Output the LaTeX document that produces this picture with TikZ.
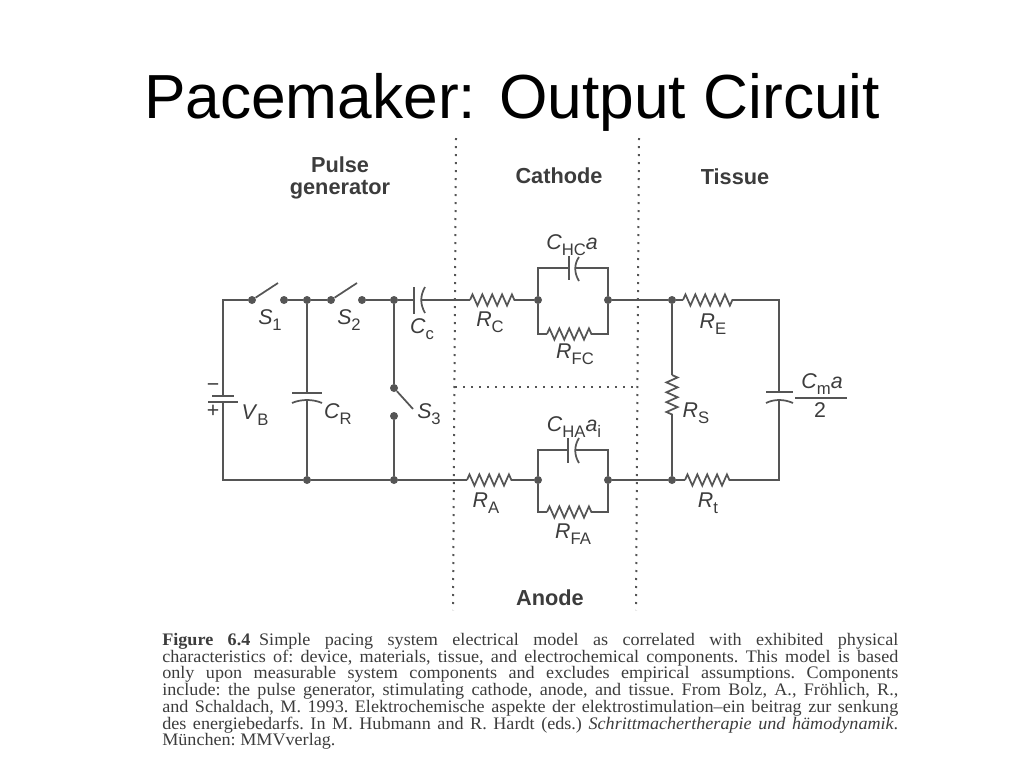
\documentclass[tikz,border=0pt]{standalone}
\usepackage{fontspec}
\setmainfont{Liberation Sans}
\newfontfamily\capfont[FakeStretch=1.03]{Liberation Serif}
\usetikzlibrary{decorations.pathmorphing}
\definecolor{wire}{HTML}{555555}
\definecolor{ink}{HTML}{3C3C3C}
\newcommand{\sublbl}[2]{\textit{#1}\raisebox{-.3em}{\fontsize{12.5}{14}\selectfont #2}}
\begin{document}
\begin{tikzpicture}[x=.75pt, y=-.75pt,
    wire/.style = {draw=wire, line width=1.3pt},
    res/.style = {wire, decorate, decoration={zigzag, segment length=7.4pt, amplitude=4.2pt}},
    dot/.style = {circle, fill=wire, inner sep=0pt, minimum size=6pt},
    plate/.style = {fill=wire, inner sep=0pt, minimum height=1.3pt, minimum width=#1},
    lbl/.style = {text=ink, font=\fontsize{16}{18}\selectfont, inner sep=0pt},
    head/.style = {text=ink, font=\fontsize{16.3}{16}\selectfont\bfseries, inner sep=0pt, align=center},
    sep/.style = {draw=wire, line width=1.5pt, dash pattern=on 1.5pt off 4.5pt}]
    \useasboundingbox (0,0) rectangle (1024,768);
    \node[font=\fontsize{46.7}{50}\selectfont, inner sep=0pt] (title) at (512,102) {Pacemaker: Output Circuit};

    % region borders
    \coordinate (sepat) at (456,138);
    \coordinate (sepab) at (453,610);
    \coordinate (sepbt) at (639,138);
    \coordinate (sepbb) at (636,610);
    \coordinate (sepl) at (455,387);
    \coordinate (sepr) at (638,387);
    \draw[sep] (sepat) -- (sepab);
    \draw[sep] (sepbt) -- (sepbb);
    \draw[sep] (sepl) -- (sepr);
    \node[head] (pulse) at (340,178) {Pulse\\generator};
    \node[head] (cathode) at (559,176) {Cathode};
    \node[head] (tissue) at (735,177) {Tissue};
    \node[head] (anode) at (550,598) {Anode};

    % junctions
    \coordinate (lt) at (223,300);
    \coordinate (lb) at (223,480);
    \node[dot] (s1a) at (252,300) {};
    \node[dot] (s1b) at (284,300) {};
    \node[dot] (j1) at (307,300) {};
    \node[dot] (s2a) at (331,300) {};
    \node[dot] (s2b) at (362,300) {};
    \node[dot] (j2) at (394,300) {};
    \node[dot] (j3) at (307,480) {};
    \node[dot] (j4) at (394,480) {};
    \node[dot] (s3a) at (394,388) {};
    \node[dot] (s3b) at (394,416) {};
    \node[dot] (c1) at (538,300) {};
    \node[dot] (c2) at (608,300) {};
    \node[dot] (j5) at (672,300) {};
    \node[dot] (a1) at (538,480) {};
    \node[dot] (a2) at (608,480) {};
    \node[dot] (j6) at (672,480) {};
    \coordinate (s1f) at (278,283);
    \coordinate (s2f) at (357,283);
    \coordinate (s3f) at (413,409);

    % battery and capacitors
    \node[plate=22pt*.75] (vb1) at (223,396) {};
    \node[plate=30pt*.75] (vb2) at (223,402) {};
    \node[plate=30pt*.75] (cr1) at (307,393) {};
    \coordinate (cr2) at (307,400);
    \draw[wire] (292,403) .. controls (301,399) and (313,399) .. (322,403);
    \node[plate=27pt*.75, rotate=90] (cc1) at (414,300) {};
    \coordinate (cc2) at (421,300);
    \draw[wire] (425,287) .. controls (420,296) and (420,304) .. (425,313);
    \node[plate=24pt*.75, rotate=90] (chc1) at (569,268) {};
    \coordinate (chc2) at (575,268);
    \draw[wire] (579,257) .. controls (574,264) and (574,273) .. (579,281);
    \node[plate=25pt*.75, rotate=90] (cha1) at (568,450) {};
    \coordinate (cha2) at (575,450);
    \draw[wire] (579,438) .. controls (574,446) and (574,455) .. (579,463);
    \node[plate=27pt*.75] (cm1) at (779,392) {};
    \coordinate (cm2) at (779,399);
    \draw[wire] (766,403) .. controls (774,399) and (784,399) .. (793,403);

    % resistor ends
    \coordinate (rcl) at (470,300);
    \coordinate (rcr) at (519,300);
    \coordinate (rfcl) at (547,334);
    \coordinate (rfcr) at (596,334);
    \coordinate (rel) at (683,300);
    \coordinate (rer) at (733,300);
    \coordinate (rst) at (672,375);
    \coordinate (rsb) at (672,417);
    \coordinate (ral) at (467,480);
    \coordinate (rar) at (516,480);
    \coordinate (rfal) at (547,512);
    \coordinate (rfar) at (595,512);
    \coordinate (rtl) at (685,480);
    \coordinate (rtr) at (733,480);
    \draw[res] (rcl) -- (rcr);
    \draw[res] (rfcl) -- (rfcr);
    \draw[res] (rel) -- (rer);
    \draw[res] (rst) -- (rsb);
    \draw[res] (ral) -- (rar);
    \draw[res] (rfal) -- (rfar);
    \draw[res] (rtl) -- (rtr);

    % wires
    \draw[wire] (vb1) -- (lt) -- (s1a);
    \draw[wire] (vb2) -- (lb) -- (j3);
    \draw[wire] (s1a) -- (s1f);
    \draw[wire] (s1b) -- (j1);
    \draw[wire] (j1) -- (s2a);
    \draw[wire] (s2a) -- (s2f);
    \draw[wire] (s2b) -- (j2);
    \draw[wire] (j2) -- (cc1);
    \draw[wire] (cc2) -- (rcl);
    \draw[wire] (rcr) -- (c1);
    \draw[wire] (j1) -- (cr1);
    \draw[wire] (cr2) -- (j3);
    \draw[wire] (j3) -- (j4);
    \draw[wire] (j2) -- (s3a);
    \draw[wire] (s3a) -- (s3f);
    \draw[wire] (s3b) -- (j4);
    \draw[wire] (j4) -- (ral);
    \draw[wire] (rar) -- (a1);
    \draw[wire] (c1) |- (chc1);
    \draw[wire] (chc2) -| (c2);
    \draw[wire] (c1) |- (rfcl);
    \draw[wire] (rfcr) -| (c2);
    \draw[wire] (a1) |- (cha1);
    \draw[wire] (cha2) -| (a2);
    \draw[wire] (a1) |- (rfal);
    \draw[wire] (rfar) -| (a2);
    \draw[wire] (c2) -- (j5);
    \draw[wire] (j5) -- (rel);
    \draw[wire] (a2) -- (j6);
    \draw[wire] (j6) -- (rtl);
    \draw[wire] (j5) -- (rst);
    \draw[wire] (rsb) -- (j6);
    \draw[wire] (rer) -| (cm1);
    \draw[wire] (rtr) -| (cm2);

    % labels
    \node[lbl] (minus) at (213,388) {−};
    \node[lbl] (plus) at (213,411) {+};
    \node[lbl] (ls1) at (270,320) {\sublbl{S}{1}};
    \node[lbl] (ls2) at (349,320) {\sublbl{S}{2}};
    \node[lbl] (ls3) at (429,414) {\sublbl{S}{3}};
    \node[lbl] (lvb) at (255,415) {\sublbl{V}{B}};
    \node[lbl] (lcr) at (338,414) {\sublbl{C}{R}};
    \node[lbl] (lcc) at (422,329) {\sublbl{C}{c}};
    \node[lbl] (lrc) at (490,322) {\sublbl{R}{C}};
    \node[lbl] (lchc) at (572,245) {\sublbl{C}{HC}\textit{a}};
    \node[lbl] (lrfc) at (575,354) {\sublbl{R}{FC}};
    \node[lbl] (lre) at (713,324) {\sublbl{R}{E}};
    \node[lbl] (lrs) at (696,413) {\sublbl{R}{S}};
    \node[lbl] (lra) at (486,503) {\sublbl{R}{A}};
    \node[lbl] (lcha) at (574,427) {\sublbl{C}{HA}\textit{a}\raisebox{-.3em}{\fontsize{12.5}{14}\selectfont i}};
    \node[lbl] (lrfa) at (573,534) {\sublbl{R}{FA}};
    \node[lbl] (lrt) at (708,503) {\sublbl{R}{t}};
    \node[lbl] (lcm) at (822,384) {\sublbl{C}{m}\textit{a}};
    \node[lbl] (ltwo) at (820,410) {2};
    \coordinate (barl) at (795,398);
    \coordinate (barr) at (847,398);
    \draw[wire] (barl) -- (barr);

    % caption
    \node[inner sep=0pt, anchor=north west, text width=552pt, text=ink, align=justify,
      font=\capfont\fontsize{13.2}{12.55}\selectfont] (caption) at (162,633)
      {\frenchspacing\tolerance=9999\hyphenpenalty=10000\textbf{Figure 6.4}\enspace Simple pacing system electrical model as correlated with exhibited physical\linebreak
      characteristics of: device, materials, tissue, and electrochemical components. This model is based\linebreak
      only upon measurable system components and excludes empirical assumptions. Components\linebreak
      include: the pulse generator, stimulating cathode, anode, and tissue. From Bolz, A., Fröhlich, R.,\linebreak
      and Schaldach, M. 1993. Elektrochemische aspekte der elektrostimulation–ein beitrag zur senkung\linebreak
      des energiebedarfs. In M. Hubmann and R. Hardt (eds.) \textit{Schrittmachertherapie und hämodynamik}.\linebreak
      München: MMVverlag.};
\end{tikzpicture}
\end{document}
